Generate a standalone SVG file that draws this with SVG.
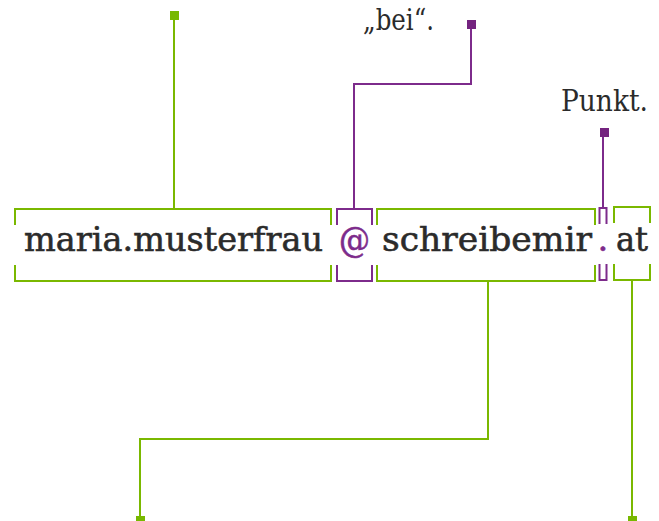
<svg xmlns="http://www.w3.org/2000/svg" width="659" height="521" viewBox="0 0 659 521">
<style>
.g{fill:none;stroke:#7ab800;stroke-width:2}
.p{fill:none;stroke:#7d2b8b;stroke-width:2}
.gm{fill:#77b800}
.pm{fill:#74237f}
.t{font-family:"DejaVu Serif","Liberation Serif",serif;font-size:34px;fill:#2b2b2b;stroke:#2b2b2b;stroke-width:0.6}
.l{font-family:"DejaVu Serif","Liberation Serif",serif;font-size:29px;fill:#2b2b2b}
.pt{fill:#7d2b8b;stroke:#7d2b8b}
</style>
<rect width="659" height="521" fill="#fff"/>
<g id="connectors">
<path class="g" d="M174,15 V209"/>
<path class="p" d="M354,209 V84 H471 V24"/>
<path class="p" d="M603,208 V132"/>
<path class="g" d="M488,281 V439 H140 V519"/>
<path class="g" d="M632,280 V519"/>
</g>
<g id="node-local">
<path class="g" d="M15,225 V209 H331 V225 M15,265 V281 H331 V265"/>
<text class="t" x="24" y="251" textLength="299" lengthAdjust="spacingAndGlyphs">maria.musterfrau</text>
</g>
<g id="node-at">
<path class="p" d="M337,225 V209 H372 V225 M337,265 V281 H372 V265"/>
<text class="t pt" x="339" y="252" textLength="31" lengthAdjust="spacingAndGlyphs" style="font-size:36px">@</text>
</g>
<g id="node-domain">
<path class="g" d="M377,225 V209 H595 V225 M377,265 V281 H595 V265"/>
<text class="t" x="382" y="251" textLength="210" lengthAdjust="spacingAndGlyphs">schreibemir</text>
</g>
<g id="node-dot">
<path class="p" d="M599.5,224 V208 H606.5 V224 M599.5,264 V280 H606.5 V264"/>
<text class="t pt" x="603" y="251" text-anchor="middle">.</text>
</g>
<g id="node-tld">
<path class="g" d="M614,223 V207 H650 V223 M614,264 V280 H650 V264"/>
<text class="t" x="616" y="251" textLength="32" lengthAdjust="spacingAndGlyphs">at</text>
</g>
<g id="label-bei">
<text class="l" x="363" y="30" textLength="71" lengthAdjust="spacingAndGlyphs">„bei“.</text>
<rect class="pm" x="467" y="20" width="9" height="9"/>
</g>
<g id="label-punkt">
<text class="l" x="561" y="111" textLength="87" lengthAdjust="spacingAndGlyphs">Punkt.</text>
<rect class="pm" x="600" y="128" width="9" height="9"/>
</g>
<g id="markers">
<rect class="gm" x="170" y="11" width="9" height="9"/>
<rect class="gm" x="136" y="516" width="9" height="9"/>
<rect class="gm" x="628" y="516" width="9" height="9"/>
</g>
</svg>
